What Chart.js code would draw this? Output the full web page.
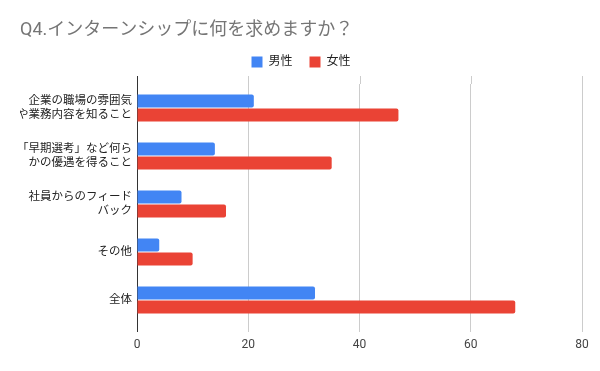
<!DOCTYPE html>
<html>
<head>
<meta charset="utf-8">
<script src="https://cdn.jsdelivr.net/npm/chart.js@4"></script>
<style>
  body { margin: 0; background: #fff; }
  .wrap { width: 600px; height: 371px; }
</style>
</head>
<body>
<div class="wrap"><canvas id="myChart"></canvas></div>
<script>
const categories = [
  ['企業の職場の雰囲気', 'や業務内容を知ること'],
  ['「早期選考」など何ら', 'かの優遇を得ること'],
  ['社員からのフィード', 'バック'],
  'その他',
  '全体'
];
const maleValues = [21, 14, 8, 4, 32];
const femaleValues = [47, 35, 16, 10, 68];
const xTicks = [0, 20, 40, 60, 80];

const jpFont = "Roboto, 'Noto Sans CJK JP', sans-serif";

// grid lines poke a little above the plot area, like the sheet chart
const topTicks = {
  id: 'topTicks',
  beforeDatasetsDraw(chart) {
    const c = chart.ctx;
    const x = chart.scales.x;
    const top = chart.chartArea.top;
    c.save();
    xTicks.forEach(v => {
      const px = Math.round(x.getPixelForValue(v)) + 0.5;
      c.strokeStyle = v === 0 ? '#333333' : '#cccccc';
      c.lineWidth = 1;
      c.beginPath();
      c.moveTo(px, top - 8);
      c.lineTo(px, top);
      c.stroke();
    });
    c.restore();
  }
};

let ctx = document.getElementById('myChart');
const data = {
  labels: categories,
  datasets: [
    {
      label: '男性',
      data: maleValues,
      backgroundColor: '#4285f4',
      borderRadius: 2,
      borderSkipped: 'start',
      categoryPercentage: 0.58,
      barPercentage: 0.93,
    },
    {
      label: '女性',
      data: femaleValues,
      backgroundColor: '#ea4335',
      borderRadius: 2,
      borderSkipped: 'start',
      categoryPercentage: 0.58,
      barPercentage: 0.93,
    },
  ],
};

const config = {
  type: 'bar',
  data: data,
  options: {
    indexAxis: 'y',
    responsive: true,
    maintainAspectRatio: false,
    animation: false,
    layout: { padding: { left: 20, right: 18, top: 0, bottom: 17 } },
    plugins: {
      title: {
        display: true,
        text: 'Q4.インターンシップに何を求めますか？',
        align: 'start',
        color: '#757575',
        font: { family: jpFont, size: 18, weight: 'normal', lineHeight: 1 },
        padding: { top: 21, bottom: 0 },
      },
      // empty spacer between legend and plot
      subtitle: {
        display: true,
        text: '',
        weight: 500,
        font: { size: 1, lineHeight: 1 },
        padding: { top: 0, bottom: 5 },
      },
      legend: {
        position: 'top',
        labels: {
          boxWidth: 11,
          boxHeight: 11,
          padding: 17,
          color: '#222222',
          font: { family: jpFont, size: 12 },
        },
      },
      tooltip: { enabled: false },
    },
    scales: {
      x: {
        min: 0,
        max: 80,
        afterBuildTicks(scale) {
          scale.ticks = xTicks.map(v => ({ value: v }));
        },
        afterFit(scale) { scale.height = 30; },
        grid: {
          color: ctx => ctx.tick && ctx.tick.value === 0 ? '#333333' : '#cccccc',
          tickLength: 8,
        },
        border: { display: false },
        ticks: {
          color: '#444444',
          padding: 6,
          font: { family: 'Roboto, sans-serif', size: 12 },
        },
      },
      y: {
        afterFit(scale) { scale.width = 117; },
        grid: { display: false, drawTicks: false },
        border: { display: true, color: '#333333' },
        ticks: {
          color: '#222222',
          padding: 5,
          font: { family: jpFont, size: 11.5, lineHeight: 1.22 },
        },
      },
    },
  },
  plugins: [topTicks],
};

const myChart = new Chart(ctx, config);
</script>
</body>
</html>
